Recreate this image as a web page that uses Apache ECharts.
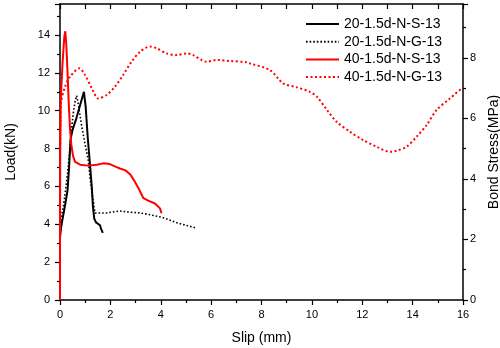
<!DOCTYPE html>
<html>
<head>
<meta charset="utf-8">
<script src="https://cdn.jsdelivr.net/npm/echarts@6/dist/echarts.min.js"></script>
<style>html,body{margin:0;padding:0;background:#fff;}#c{width:500px;height:348px;}</style>
</head>
<body>
<div id="c"></div>
<script>
var seriesNames = ['20-1.5d-N-S-13', '20-1.5d-N-G-13', '40-1.5d-N-S-13', '40-1.5d-N-G-13'];
var xTicks = [0, 2, 4, 6, 8, 10, 12, 14, 16];
var loadTicks = [0, 2, 4, 6, 8, 10, 12, 14];
var stressTicks = [0, 2, 4, 6, 8];

var s20S = [[0.0,3.3],[0.04,3.8],[0.09,4.2],[0.2,5.0],[0.3,5.8],[0.36,7.0],[0.42,8.5],[0.5,9.0],[0.65,9.6],[0.8,10.3],[0.95,11.0],[1.02,10.2],[1.1,8.6],[1.2,7.0],[1.26,6.0],[1.31,4.9],[1.36,4.3],[1.43,4.1],[1.59,3.95],[1.62,3.8],[1.7,3.55]];
var s20G = [[0.03,4.2],[0.08,4.6],[0.13,4.9],[0.22,5.8],[0.3,6.7],[0.4,8.1],[0.44,8.8],[0.52,9.8],[0.6,10.5],[0.66,10.8],[0.72,10.4],[0.86,9.2],[1.0,8.2],[1.12,7.4],[1.19,6.5],[1.3,5.4],[1.39,4.6],[1.6,4.6],[1.85,4.6],[2.1,4.65],[2.38,4.7],[2.7,4.65],[3.17,4.6],[3.6,4.5],[4.1,4.35],[4.6,4.1],[5.0,3.95],[5.36,3.82]];
var s40S = [[0,0],[0,4],[0.01,8],[0.03,10.6],[0.1,12.5],[0.17,13.9],[0.21,14.2],[0.25,13.5],[0.3,12.0],[0.35,10.3],[0.4,9.0],[0.45,8.2],[0.52,7.6],[0.6,7.3],[0.8,7.15],[1.1,7.1],[1.46,7.15],[1.72,7.22],[1.98,7.18],[2.2,7.05],[2.38,6.95],[2.6,6.85],[2.78,6.65],[2.95,6.3],[3.1,5.95],[3.3,5.4],[3.5,5.25],[3.77,5.1],[3.97,4.84],[4.03,4.58]];
var s40G = [[0,7.5],[0.02,9.5],[0.04,10.4],[0.2,11.27],[0.4,11.8],[0.77,12.24],[0.99,11.9],[1.26,11.2],[1.52,10.65],[1.85,10.83],[2.18,11.27],[2.51,11.9],[2.84,12.59],[3.17,13.1],[3.57,13.39],[3.84,13.3],[4.23,13.03],[4.63,12.94],[5.03,13.03],[5.29,12.94],[5.62,12.68],[5.82,12.59],[6.22,12.68],[6.75,12.63],[7.41,12.56],[7.55,12.5],[8.33,12.15],[8.86,11.45],[9.39,11.24],[9.92,11.0],[10.2,10.74],[10.6,10.04],[10.98,9.42],[11.51,8.89],[12.04,8.45],[12.57,8.1],[13.1,7.83],[13.36,7.89],[13.76,8.1],[14.16,8.63],[14.56,9.25],[14.95,10.04],[15.48,10.65],[16.0,11.24]];

var FONT = 'Liberation Sans, Arial, sans-serif';
var axisLine = {show: true, onZero: false, lineStyle: {color: '#000', width: 1.5}};
var chart = echarts.init(document.getElementById('c'), null, {renderer: 'canvas'});

function showIf(list) {
  return function (v) { return list.indexOf(Math.round(v * 1000) / 1000) >= 0 ? String(v) : ''; };
}

chart.setOption({
  animation: false,
  backgroundColor: '#fff',
  grid: {left: 60, right: 37, top: 4, bottom: 48, containLabel: false, outerBoundsMode: 'none'},
  legend: {
    orient: 'vertical', left: 305, top: 17, padding: 0, itemWidth: 33, itemHeight: 14, itemGap: 3.7,
    data: seriesNames,
    itemStyle: {opacity: 0, borderWidth: 0},
    textStyle: {fontFamily: FONT, fontSize: 14, color: '#000'}
  },
  xAxis: [{
    type: 'value', min: 0, max: 16, interval: 2, position: 'bottom',
    name: 'Slip (mm)', nameLocation: 'middle', nameGap: 31,
    nameTextStyle: {fontFamily: FONT, fontSize: 14, color: '#000'},
    axisLine: axisLine,
    axisTick: {show: true, inside: false, length: 5, lineStyle: {color: '#000', width: 1.2}},
    minorTick: {show: true, splitNumber: 2, length: 3, lineStyle: {color: '#000', width: 1.2}},
    axisLabel: {fontFamily: FONT, fontSize: 11, color: '#000', margin: 9, formatter: showIf(xTicks)},
    splitLine: {show: false}
  }, {
    type: 'value', min: 0, max: 16, interval: 1, position: 'top',
    axisLine: axisLine,
    axisTick: {show: true, inside: true, length: 5, lineStyle: {color: '#000', width: 1.2}},
    axisLabel: {show: false}, splitLine: {show: false}
  }],
  yAxis: [{
    type: 'value', min: 0, max: 15.64, interval: 2, position: 'left',
    name: 'Load(kN)', nameLocation: 'middle', nameGap: 42,
    nameTextStyle: {fontFamily: FONT, fontSize: 14, color: '#000'},
    axisLine: axisLine,
    axisTick: {show: true, inside: false, length: 5, lineStyle: {color: '#000', width: 1.2}},
    minorTick: {show: true, splitNumber: 2, length: 3, lineStyle: {color: '#000', width: 1.2}},
    axisLabel: {fontFamily: FONT, fontSize: 11, color: '#000', margin: 10, showMaxLabel: false, formatter: showIf(loadTicks)},
    splitLine: {show: false}
  }, {
    type: 'value', min: 0, max: 9.78, interval: 2, position: 'right',
    name: 'Bond Stress(MPa)', nameLocation: 'middle', nameGap: 15,
    nameTextStyle: {fontFamily: FONT, fontSize: 14, color: '#000'},
    axisLine: axisLine,
    axisTick: {show: true, inside: false, length: 5, lineStyle: {color: '#000', width: 1.2}},
    minorTick: {show: true, splitNumber: 2, length: 3, lineStyle: {color: '#000', width: 1.2}},
    axisLabel: {fontFamily: FONT, fontSize: 11, color: '#000', margin: 7, showMaxLabel: false, formatter: showIf(stressTicks)},
    splitLine: {show: false}
  }],
  series: [
    {name: seriesNames[0], type: 'line', data: s20S, showSymbol: false, symbol: 'none', xAxisIndex: 0, yAxisIndex: 0,
     lineStyle: {color: '#000', width: 2}, itemStyle: {color: '#000'}},
    {name: seriesNames[1], type: 'line', data: s20G, showSymbol: false, symbol: 'none', xAxisIndex: 0, yAxisIndex: 0,
     lineStyle: {color: '#000', width: 1.6, type: [1.6, 2]}, itemStyle: {color: '#000'}},
    {name: seriesNames[2], type: 'line', data: s40S, showSymbol: false, symbol: 'none', xAxisIndex: 0, yAxisIndex: 0,
     lineStyle: {color: '#ff0000', width: 2}, itemStyle: {color: '#ff0000'}},
    {name: seriesNames[3], type: 'line', data: s40G, showSymbol: false, symbol: 'none', smooth: 0.3, xAxisIndex: 0, yAxisIndex: 0,
     lineStyle: {color: '#ff0000', width: 2, type: [2, 2.5]}, itemStyle: {color: '#ff0000'}}
  ]
});
</script>
</body>
</html>
